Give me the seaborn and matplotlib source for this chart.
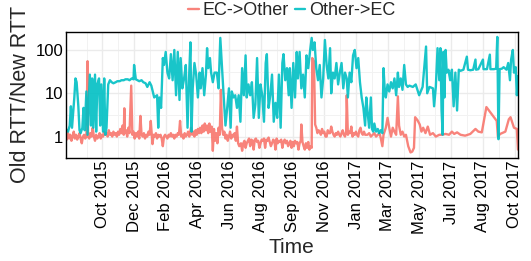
"""RTT ratio time series for EC->Other and Other->EC paths (2015-2017)."""
import matplotlib
matplotlib.use("Agg")
import matplotlib.dates as mdates
import matplotlib.pyplot as plt
import numpy as np
import pandas as pd
import seaborn as sns
from matplotlib.lines import Line2D
from matplotlib.ticker import FixedLocator, NullFormatter

START = pd.Timestamp("2015-08-11")

# EC->Other: days since START and Old RTT / New RTT
ec_days = [
    1, 3, 5, 7, 9, 11, 13, 15, 17, 19, 21, 23, 25, 27, 29, 31, 33, 35, 37, 39,
    40, 42, 44, 46, 48, 50, 52, 54, 56, 58, 60, 62, 64, 66, 68, 70, 72, 74, 76, 78,
    80, 82, 84, 86, 88, 90, 92, 94, 96, 98, 100, 102, 103, 104, 106, 108, 110, 112, 115, 117,
    119, 121, 123, 125, 127, 129,
    131, 133, 135, 137, 139, 141, 143, 145, 147, 149, 151, 152, 154, 156, 158, 160, 162, 164, 166, 168,
    170, 172, 174, 176, 178, 180, 182, 184, 186, 188, 190, 192, 194, 196, 198, 200, 202, 204, 206, 208,
    210, 212, 214, 216, 219, 221, 223, 225, 227, 229, 231, 233, 235, 237, 239, 241, 243, 245, 247, 249,
    251, 253, 255, 257, 259,
    261, 263, 265, 267, 269, 271, 273, 275, 277, 279, 281, 283, 285, 287, 289, 291, 293, 295, 297, 299,
    301, 303, 306, 308, 310, 312, 314, 316, 318, 320, 322, 324, 326, 328, 330, 332, 334, 336, 338, 340,
    342, 344, 346, 348, 350, 352, 354, 356, 358, 360, 362, 364, 366, 368, 370, 372, 374, 376, 378, 380,
    382, 384, 386, 388,
    390, 392, 394, 396, 398, 400, 402, 404, 406, 408, 410, 411, 413, 415, 417, 419, 421, 423, 425, 427,
    429, 430, 433, 435,
    437, 439, 441, 443, 445, 447, 449, 451, 453, 455, 457, 459, 461, 463, 465, 467, 469, 471, 473, 475,
    477, 479, 481, 483, 485, 487, 489, 490, 492, 494, 496, 498, 500, 502, 504, 506, 508, 510, 512, 514,
    516, 518, 520, 522, 524,
    526, 529, 532, 535, 538, 541, 544, 547, 549, 552, 554, 558, 561, 564, 567, 570, 573, 576, 579, 581,
    584, 587, 590, 593, 597, 601, 604, 607, 609, 613, 617, 620, 623, 627, 631, 635, 640, 645, 651,
    655, 662, 668, 673, 677, 682, 688, 696, 705, 714, 719, 725, 733, 740, 749, 751, 753, 757, 766, 772,
    775, 781, 786, 788,
]
ec_ratio = [
    1.0, 0.85, 1.2, 0.9, 1.1, 0.8, 1.0, 1.3, 0.9, 1.1, 0.85, 1.0, 1.2, 0.9, 0.7, 1.0, 1.1, 0.9, 1.0, 55,
    1.0, 0.9, 1.2, 1.0, 1.6, 1.0, 0.8, 1.1, 0.9, 1.0, 1.2, 0.9, 1.1, 1.0, 1.3, 1.1, 1.2, 1.0, 1.4, 1.1,
    1.2, 1.0, 1.3, 1.1, 1.2, 1.0, 1.3, 1.1, 1.5, 1.2, 1.8, 1.1, 4.5, 1.2, 1.4, 1.0, 1.6, 1.2, 15, 1.1,
    1.3, 0.9, 1.2, 1.0, 1.3, 0.9,
    3, 1.1, 1.0, 1.2, 0.9, 1.1, 1.0, 1.3, 1.1, 2.3, 1.0, 0.67, 1.1, 1.0, 1.2, 0.9, 1.1, 1.0, 1.1, 0.9,
    0.6, 1.0, 1.1, 1.0, 0.9, 1.1, 1.0, 1.2, 1.0, 1.1, 0.9, 1.1, 1.0, 1.2, 1.1, 2.3, 1.0, 1.1, 0.9, 1.2,
    1.0, 1.1, 1.3, 1.0, 1.6, 1.1, 1.3, 1.0, 1.4, 1.1, 1.5, 1.2, 1.6, 1.2, 1.8, 1.3, 2.0, 1.4, 1.8, 1.2,
    2.0, 1.3, 1.7, 0.47, 1.5,
    0.8, 1.2, 0.7, 1.6, 1.1, 12, 1.6, 1.1, 1.3, 0.9, 1.1, 0.8, 1.0, 1.3, 0.9, 1.1, 1.0, 1.2, 0.8, 1.7,
    0.7, 0.6, 0.7, 0.47, 0.7, 0.8, 0.55, 0.7, 0.8, 0.9, 0.6, 0.85, 0.8, 0.5, 0.85, 0.9, 0.75, 0.8, 0.55, 0.7,
    0.85, 0.8, 0.9, 0.55, 0.85, 0.8, 0.95, 0.75, 0.6, 0.7, 0.85, 0.8, 0.5, 0.9, 0.7, 0.8, 0.75, 0.85, 0.55, 0.75,
    0.85, 0.7, 0.8, 0.6,
    0.7, 0.8, 0.55, 0.75, 0.6, 0.8, 0.7, 0.75, 0.5, 0.7, 0.8, 1.9, 0.75, 0.6, 0.5, 0.7, 0.55, 0.75, 0.5, 0.6,
    0.55, 65, 55, 1.9,
    1.6, 1.2, 1.4, 1.3, 1.1, 1.5, 1.2, 1.3, 1.0, 1.0, 1.4, 1.2, 1.2, 1.7, 1.3, 1.1, 1.0, 1.2, 1.1, 1.3,
    1.1, 1.0, 1.2, 1.4, 1.1, 1.0, 1.3, 9, 1.1, 1.3, 1.2, 1.7, 1.0, 1.2, 1.1, 1.3, 1.1, 1.0, 1.4, 1.6,
    1.2, 1.1, 1.3, 1.1, 1.1,
    1.1, 1.2, 1.0, 1.1, 1.2, 1.0, 1.1, 1.2, 0.95, 0.6, 1.1, 1.6, 2.7, 1.6, 1.0, 1.6, 1.3, 1.1, 8.5, 1.8,
    1.1, 1.3, 1.0, 1.1, 0.6, 0.43, 0.45, 0.55, 2.8, 2.4, 1.9, 1.3, 1.6, 1.2, 1.7, 1.1, 1.2, 1.0, 1.1,
    1.1, 1.15, 1.1, 1.3, 1.15, 1.25, 1.1, 1.05, 1.15, 1.5, 1.3, 1.25, 4.8, 3.6, 2.5, 2.3, 1.0, 1.15, 1.3, 2.5,
    2.8, 1.6, 1.5, 0.5,
]

# Other->EC
oe_days = [
    1, 5, 8, 10, 12, 16, 18, 20, 23, 25, 27, 30, 32, 34, 37, 39, 43, 45, 47, 49,
    52, 54, 56, 59, 61, 63, 66, 68, 70, 72, 75, 78, 81, 84, 88, 91, 95, 98, 102, 105,
    109, 112, 116, 119, 120, 123, 126, 129,
    133, 136, 140, 143, 147, 150, 155, 160, 162, 164, 167, 170, 172, 175, 178, 181, 184, 187, 190, 193,
    196, 199, 201, 204, 207, 210, 213, 216, 218, 220, 222, 225, 228, 231, 234, 236, 239, 242, 245, 247,
    249, 252, 254, 257, 260,
    264, 267, 270, 273, 276, 279, 282, 285, 288, 290, 293, 296, 299, 302, 305, 308, 311, 314, 316, 319,
    322, 325, 328, 331, 334, 337, 340, 343, 346, 349, 351, 354, 357, 360, 363, 366, 369, 372, 375, 378,
    380, 383, 386, 389,
    391, 394, 397, 400, 403, 405, 408, 411, 414, 417, 420, 423, 426, 429, 431, 434, 437, 440, 443, 446,
    449, 452, 455, 458, 461, 463, 466, 469, 472, 475, 478, 481, 484, 487, 490, 492, 495, 498, 501, 504,
    507, 510, 513, 516, 519, 522,
    524, 526, 529, 532, 534, 536, 538, 541, 544, 546, 549, 552, 554, 556, 558, 561, 564, 567, 570, 573,
    576, 579, 581, 584, 587, 590, 593, 596, 599, 605, 610, 616, 622, 628, 630, 634, 640, 642, 645, 648,
    651, 653, 655, 657, 658, 660, 662, 664, 667, 670, 673, 676, 679, 682, 685, 688, 693, 699, 701, 705,
    710, 714, 715, 719, 727, 728, 734, 739, 740, 746, 750, 752, 754, 756, 760, 763, 768, 771, 774, 776,
    779, 781, 784, 786, 788,
]
oe_ratio = [
    1.5, 1.3, 1.8, 5, 1.6, 8, 22, 18, 5, 1.4, 1.2, 1.6, 4.6, 1.4, 11, 1.1, 27, 1.8, 22, 1.6,
    27, 1.3, 16, 22, 1.8, 16, 1.3, 22, 1.1, 1.6, 16, 20, 18, 17, 18, 19, 19, 20, 20, 21,
    21, 20, 22, 21, 45, 21, 20, 19,
    20, 18, 17, 14, 18, 15, 8, 9, 1.6, 8, 4.6, 65, 45, 90, 30, 22, 80, 20, 100, 9,
    90, 7, 65, 13, 22, 45, 1.6, 30, 150, 1.3, 13, 50, 27, 8, 30, 13, 38, 9, 27, 110,
    38, 65, 30, 18, 30,
    30, 13, 190, 38, 8, 1.8, 4.6, 13, 1.6, 11, 8, 9, 4.6, 9, 2.2, 38, 9, 75, 8, 16,
    9, 18, 2.7, 5.5, 65, 2.7, 16, 9, 2.2, 50, 80, 4.6, 9, 27, 2.2, 6, 2.7, 27, 1.6, 50,
    80, 20, 38, 9,
    38, 4.6, 50, 8, 90, 22, 90, 13, 27, 8, 75, 38, 90, 190, 100, 150, 38, 20, 45, 8,
    22, 170, 45, 22, 110, 10, 30, 22, 50, 16, 30, 50, 13, 30, 22, 8, 30, 18, 75, 100,
    38, 65, 18, 8, 4.6, 1.8,
    8, 4, 1.6, 8, 1.5, 1.3, 2, 1.3, 1.5, 1.2, 1.4, 1.2, 38, 13, 8, 16, 11, 18, 13, 22,
    9, 30, 14, 22, 12, 45, 16, 14, 15, 14, 16, 9, 14, 120, 10, 14, 13, 5, 14, 110,
    20, 110, 4, 1.1, 90, 8, 100, 30, 35, 20, 35, 5, 30, 4, 35, 33, 35, 70, 35, 34,
    35, 60, 35, 36, 60, 36, 36, 78, 36, 36, 37, 200, 0.87, 36, 37, 40, 35, 50, 20, 60,
    100, 30, 40, 9, 25,
]

SERIES = ["EC->Other", "Other->EC"]
COLORS = ["#F8766D", "#00BFC4"]
TICK_LABELS = ["Oct 2015", "Dec 2015", "Feb 2016", "Apr 2016", "Jun 2016", "Aug 2016",
               "Sep 2016", "Nov 2016", "Jan 2017", "Mar 2017", "May 2017", "Jul 2017",
               "Aug 2017", "Oct 2017"]
TICK_DATES = pd.date_range("2015-10-15", "2017-10-01", periods=len(TICK_LABELS))

assert len(ec_days) == len(ec_ratio) and len(oe_days) == len(oe_ratio)

df = pd.concat([
    pd.DataFrame({"date": START + pd.to_timedelta(ec_days, unit="D"),
                  "ratio": ec_ratio, "dir": SERIES[0]}),
    pd.DataFrame({"date": START + pd.to_timedelta(oe_days, unit="D"),
                  "ratio": oe_ratio, "dir": SERIES[1]}),
], ignore_index=True)

sns.set_theme(style="whitegrid")
plt.rcParams["font.family"] = ["Liberation Sans", "DejaVu Sans"]

W, H = 531, 261
fig = plt.figure(figsize=(W / 100, H / 100), dpi=100)
L, R, T, B = 65.7, 518, 31.7, 158
ax = fig.add_axes([L / W, 1 - B / H, (R - L) / W, (B - T) / H])

sns.lineplot(data=df, x="date", y="ratio", hue="dir", hue_order=SERIES,
             palette=dict(zip(SERIES, COLORS)), estimator=None, sort=False,
             lw=1.7, alpha=0.9, legend=False, ax=ax)

ax.set_yscale("log")
ax.set_ylim(0.32, 264)
ax.set_xlim(df["date"].min(), df["date"].max())

ax.yaxis.set_major_locator(FixedLocator([1, 10, 100]))
ax.set_yticklabels(["1", "10", "100"])
ax.yaxis.set_minor_locator(FixedLocator([10 ** -0.5, 10 ** 0.5, 10 ** 1.5, 10 ** 2.5]))
ax.yaxis.set_minor_formatter(NullFormatter())

ax.set_xticks(TICK_DATES)
ax.set_xticklabels(TICK_LABELS, rotation=90)
tnum = mdates.date2num(TICK_DATES)
half = (tnum[1] - tnum[0]) / 2
ax.xaxis.set_minor_locator(FixedLocator(np.r_[tnum[0] - half, tnum[:-1] + half]))

ax.grid(which="major", color="#EBEBEB", lw=1.0)
ax.grid(which="minor", color="#F2F2F2", lw=0.7)
ax.set_axisbelow(True)
ax.tick_params(which="both", length=0, labelsize=12, labelcolor="black")
ax.tick_params(axis="y", pad=1.7)
ax.tick_params(axis="x", pad=1.8)
for sp in ax.spines.values():
    sp.set_color("black")
    sp.set_linewidth(1.0)

ax.set_xlabel("Time", fontsize=15)
ax.set_ylabel("Old RTT/New RTT", fontsize=15.5)
ax.xaxis.set_label_coords(0.5, (B - 238) / (B - T))
ax.yaxis.set_label_coords((31 - L) / (R - L), 0.5)

handles = [Line2D([], [], color=c, lw=1.7, alpha=0.9) for c in COLORS]
fig.legend(handles, SERIES, loc="center", ncol=2, frameon=False, fontsize=13,
           bbox_to_anchor=((L + R) / 2 / W, 1 - 10.7 / H), handlelength=0.6,
           handletextpad=0.2, columnspacing=0.3, borderpad=0)

fig.savefig("out.png", dpi=100)
